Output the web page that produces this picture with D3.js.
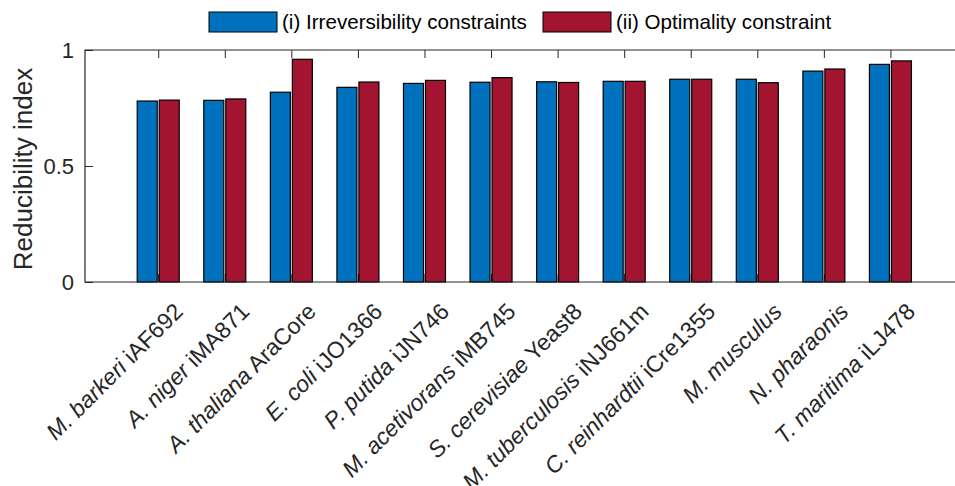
<!DOCTYPE html>
<html>
<head>
<meta charset="utf-8">
<script src="https://cdn.jsdelivr.net/npm/d3@7"></script>
<style>
  body { margin: 0; background: #fff; }
  text { font-family: "Liberation Sans", Arial, sans-serif; fill: #262626; }
</style>
</head>
<body>
<div id="chart"></div>
<script>
// species (italic) and model id (upright)
const species = ["M. barkeri", "A. niger", "A. thaliana", "E. coli", "P. putida", "M. acetivorans",
    "S. cerevisiae", "M. tuberculosis", "C. reinhardtii", "M. musculus", "N. pharaonis", "T. maritima"];
const models = ["iAF692", "iMA871", "AraCore", "iJO1366", "iJN746", "iMB745",
    "Yeast8", "iNJ661m", "iCre1355", "", "", "iLJ478"];

const seriesNames = ["(i) Irreversibility constraints", "(ii) Optimality constraint"];
const seriesColors = ["#0072BD", "#A2142F"];
const irreversibility = [0.780, 0.783, 0.818, 0.839, 0.856, 0.861, 0.863, 0.865, 0.874, 0.874, 0.909, 0.938];
const optimality = [0.784, 0.789, 0.960, 0.862, 0.869, 0.881, 0.860, 0.865, 0.874, 0.859, 0.918, 0.953];
const yTicks = [0, 0.5, 1];

let width = 955, height = 486;
let margin = { left: 85, right: 957, top: 50, bottom: 282 };

let svg = d3.select("#chart").append("svg")
    .attr("width", width)
    .attr("height", height);

let x = d3.scaleLinear().domain([-0.1, 13]).range([margin.left, margin.right]);
let y = d3.scaleLinear().domain([0, 1]).range([margin.bottom, margin.top]);

let ink = "#262626";
let idx = d3.range(species.length);

// ticks (inward, MATLAB style)
svg.append("g")
    .attr("transform", `translate(0,${margin.bottom})`)
    .call(d3.axisTop(x).tickValues(idx.map(i => i + 1)).tickSize(8).tickFormat(""))
    .call(g => g.select(".domain").remove())
    .call(g => g.selectAll("line").attr("stroke", ink));
svg.append("g")
    .attr("transform", `translate(0,${margin.top})`)
    .call(d3.axisBottom(x).tickValues(idx.map(i => i + 1)).tickSize(8).tickFormat(""))
    .call(g => g.select(".domain").remove())
    .call(g => g.selectAll("line").attr("stroke", ink));

let yAxis = svg.append("g")
    .attr("transform", `translate(${margin.left},0)`)
    .call(d3.axisRight(y).tickValues(yTicks).tickSize(8).tickFormat(""));
yAxis.select(".domain").remove();
yAxis.selectAll("line").attr("stroke", ink);

svg.selectAll(".ylab")
    .data(yTicks)
    .enter()
    .append("text")
    .attr("x", 74)
    .attr("y", d => y(d))
    .attr("dy", "0.36em")
    .attr("text-anchor", "end")
    .style("font-size", "22px")
    .text(d => d);

// bars
let series = [irreversibility, optimality];
series.forEach((vals, s) => {
    svg.selectAll(".bar" + s)
        .data(vals)
        .enter()
        .append("rect")
        .attr("x", (d, i) => s === 0 ? x(i + 1) - 21 : x(i + 1) + 1)
        .attr("width", 20)
        .attr("y", d => y(d))
        .attr("height", d => y(0) - y(d))
        .attr("fill", seriesColors[s])
        .attr("stroke", "#000")
        .attr("stroke-width", 1.2);
});

// box
svg.append("path")
    .attr("d", `M${margin.right},${margin.top}H${margin.left}V${margin.bottom}H${margin.right}`)
    .attr("fill", "none")
    .attr("stroke", ink)
    .attr("stroke-width", 1.2);

// x labels, rotated
let xl = svg.selectAll(".xlab")
    .data(idx)
    .enter()
    .append("text")
    .attr("text-anchor", "end")
    .attr("transform", i => `translate(${x(i + 1) + 26},313) rotate(-45)`)
    .style("font-size", "23px");
xl.append("tspan").style("font-style", "italic").text(i => species[i]);
xl.append("tspan").text(i => models[i] ? " " + models[i] : "");

svg.append("text")
    .attr("transform", `translate(32,${(margin.top + margin.bottom) / 2 + 3}) rotate(-90)`)
    .attr("text-anchor", "middle")
    .style("font-size", "26px")
    .text("Reducibility index");

// legend
let legendX = [209, 543];
seriesNames.forEach((name, s) => {
    svg.append("rect")
        .attr("x", legendX[s])
        .attr("y", 12)
        .attr("width", 68)
        .attr("height", 20)
        .attr("fill", seriesColors[s])
        .attr("stroke", "#000")
        .attr("stroke-width", 1);
    svg.append("text")
        .attr("x", legendX[s] + 73)
        .attr("y", 22)
        .attr("dy", "0.36em")
        .style("font-size", "20.6px")
        .style("fill", "#000")
        .text(name);
});
</script>
</body>
</html>
